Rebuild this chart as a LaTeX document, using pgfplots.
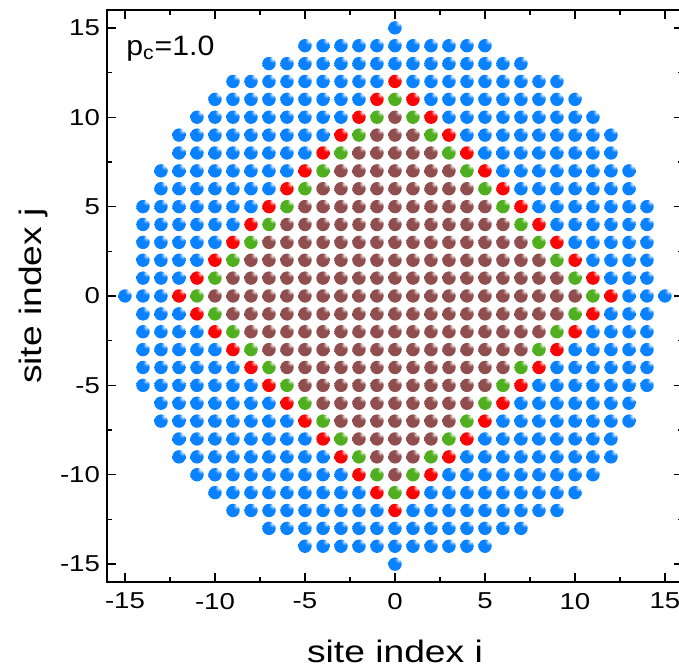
\documentclass[border=0pt]{standalone}
\usepackage{fontspec}
\setmainfont{Liberation Sans}
\newfontfamily\tickfont[FakeStretch=1.2]{Liberation Sans}
\newfontfamily\labfont[FakeStretch=1.2]{Liberation Sans}
\newfontfamily\notefont[FakeStretch=1.08]{Liberation Sans}
\usepackage{pgfplots}
\pgfplotsset{compat=1.18}
\definecolor{ballblue}{RGB}{10,130,255}
\definecolor{ballred}{RGB}{250,5,5}
\definecolor{ballgreen}{RGB}{80,175,30}
\definecolor{ballbrown}{RGB}{145,78,78}
% glossy sphere marks, highlight at the upper right
\newcommand\declsphere[1]{%
  \pgfdeclareradialshading{sh#1}{\pgfqpoint{15bp}{20bp}}{%
    color(0bp)=(white); color(5bp)=(#1!35!white); color(13bp)=(#1);
    color(50bp)=(#1); color(72bp)=(#1!80!black); color(100bp)=(#1!80!black)}%
  \pgfdeclareplotmark{sphere#1}{%
    \pgfpathcircle{\pgfpointorigin}{\pgfplotmarksize}%
    \pgfshadepath{sh#1}{0}\pgfusepath{}}}
\declsphere{ballblue}
\declsphere{ballred}
\declsphere{ballgreen}
\declsphere{ballbrown}
\pgfplotsset{site/.style={only marks, mark=sphere#1, mark size=3.35pt}}

\begin{document}
\begin{tikzpicture}
\begin{axis}[
  scale only axis, width=288pt, height=286pt,
  xmin=-16, xmax=16, ymin=-16, ymax=16,
  xtick={-15,-10,...,15}, ytick={-15,-10,...,15},
  minor tick num=1,
  major tick length=4.5pt, minor tick length=2.5pt,
  axis line style={line width=1pt},
  tick style={line width=0.7pt, black},
  /pgf/number format/assume math mode=true,
  tick label style={font=\tickfont\fontsize{11.5}{13}\selectfont},
  xticklabel style={yshift=-2pt},
  xlabel={site index i}, ylabel={site index j},
  label style={font=\labfont\fontsize{15.5}{18}\selectfont},
  xlabel style={at={(axis description cs:0.5,-0.1416)}, anchor=base},
  ylabel style={at={(axis description cs:-0.1276,0.5)}, anchor=center},
]
% outer sites
\addplot[site=ballblue] coordinates {
(0,15)
(-5,14)(-4,14)(-3,14)(-2,14)(-1,14)(0,14)(1,14)(2,14)(3,14)(4,14)(5,14)
(-7,13)(-6,13)(-5,13)(-4,13)(-3,13)(-2,13)(-1,13)(0,13)(1,13)(2,13)(3,13)(4,13)(5,13)(6,13)(7,13)
(-9,12)(-8,12)(-7,12)(-6,12)(-5,12)(-4,12)(-3,12)(-2,12)(-1,12)(1,12)(2,12)(3,12)(4,12)(5,12)(6,12)(7,12)(8,12)(9,12)
(-10,11)(-9,11)(-8,11)(-7,11)(-6,11)(-5,11)(-4,11)(-3,11)(-2,11)(2,11)(3,11)(4,11)(5,11)(6,11)(7,11)(8,11)(9,11)(10,11)
(-11,10)(-10,10)(-9,10)(-8,10)(-7,10)(-6,10)(-5,10)(-4,10)(-3,10)(3,10)(4,10)(5,10)(6,10)(7,10)(8,10)(9,10)(10,10)(11,10)
(-12,9)(-11,9)(-10,9)(-9,9)(-8,9)(-7,9)(-6,9)(-5,9)(-4,9)(4,9)(5,9)(6,9)(7,9)(8,9)(9,9)(10,9)(11,9)(12,9)
(-12,8)(-11,8)(-10,8)(-9,8)(-8,8)(-7,8)(-6,8)(-5,8)(5,8)(6,8)(7,8)(8,8)(9,8)(10,8)(11,8)(12,8)
(-13,7)(-12,7)(-11,7)(-10,7)(-9,7)(-8,7)(-7,7)(-6,7)(6,7)(7,7)(8,7)(9,7)(10,7)(11,7)(12,7)(13,7)
(-13,6)(-12,6)(-11,6)(-10,6)(-9,6)(-8,6)(-7,6)(7,6)(8,6)(9,6)(10,6)(11,6)(12,6)(13,6)
(-14,5)(-13,5)(-12,5)(-11,5)(-10,5)(-9,5)(-8,5)(8,5)(9,5)(10,5)(11,5)(12,5)(13,5)(14,5)
(-14,4)(-13,4)(-12,4)(-11,4)(-10,4)(-9,4)(9,4)(10,4)(11,4)(12,4)(13,4)(14,4)
(-14,3)(-13,3)(-12,3)(-11,3)(-10,3)(10,3)(11,3)(12,3)(13,3)(14,3)
(-14,2)(-13,2)(-12,2)(-11,2)(11,2)(12,2)(13,2)(14,2)
(-14,1)(-13,1)(-12,1)(12,1)(13,1)(14,1)
(-15,0)(-14,0)(-13,0)(13,0)(14,0)(15,0)
(-14,-1)(-13,-1)(-12,-1)(12,-1)(13,-1)(14,-1)
(-14,-2)(-13,-2)(-12,-2)(-11,-2)(11,-2)(12,-2)(13,-2)(14,-2)
(-14,-3)(-13,-3)(-12,-3)(-11,-3)(-10,-3)(10,-3)(11,-3)(12,-3)(13,-3)(14,-3)
(-14,-4)(-13,-4)(-12,-4)(-11,-4)(-10,-4)(-9,-4)(9,-4)(10,-4)(11,-4)(12,-4)(13,-4)(14,-4)
(-14,-5)(-13,-5)(-12,-5)(-11,-5)(-10,-5)(-9,-5)(-8,-5)(8,-5)(9,-5)(10,-5)(11,-5)(12,-5)(13,-5)(14,-5)
(-13,-6)(-12,-6)(-11,-6)(-10,-6)(-9,-6)(-8,-6)(-7,-6)(7,-6)(8,-6)(9,-6)(10,-6)(11,-6)(12,-6)(13,-6)
(-13,-7)(-12,-7)(-11,-7)(-10,-7)(-9,-7)(-8,-7)(-7,-7)(-6,-7)(6,-7)(7,-7)(8,-7)(9,-7)(10,-7)(11,-7)(12,-7)(13,-7)
(-12,-8)(-11,-8)(-10,-8)(-9,-8)(-8,-8)(-7,-8)(-6,-8)(-5,-8)(5,-8)(6,-8)(7,-8)(8,-8)(9,-8)(10,-8)(11,-8)(12,-8)
(-12,-9)(-11,-9)(-10,-9)(-9,-9)(-8,-9)(-7,-9)(-6,-9)(-5,-9)(-4,-9)(4,-9)(5,-9)(6,-9)(7,-9)(8,-9)(9,-9)(10,-9)(11,-9)(12,-9)
(-11,-10)(-10,-10)(-9,-10)(-8,-10)(-7,-10)(-6,-10)(-5,-10)(-4,-10)(-3,-10)(3,-10)(4,-10)(5,-10)(6,-10)(7,-10)(8,-10)(9,-10)(10,-10)(11,-10)
(-10,-11)(-9,-11)(-8,-11)(-7,-11)(-6,-11)(-5,-11)(-4,-11)(-3,-11)(-2,-11)(2,-11)(3,-11)(4,-11)(5,-11)(6,-11)(7,-11)(8,-11)(9,-11)(10,-11)
(-9,-12)(-8,-12)(-7,-12)(-6,-12)(-5,-12)(-4,-12)(-3,-12)(-2,-12)(-1,-12)(1,-12)(2,-12)(3,-12)(4,-12)(5,-12)(6,-12)(7,-12)(8,-12)(9,-12)
(-7,-13)(-6,-13)(-5,-13)(-4,-13)(-3,-13)(-2,-13)(-1,-13)(0,-13)(1,-13)(2,-13)(3,-13)(4,-13)(5,-13)(6,-13)(7,-13)
(-5,-14)(-4,-14)(-3,-14)(-2,-14)(-1,-14)(0,-14)(1,-14)(2,-14)(3,-14)(4,-14)(5,-14)
(0,-15)
};
% red ring
\addplot[site=ballred] coordinates {
(0,12)(-1,11)(1,11)(-2,10)(2,10)(-3,9)(3,9)(-4,8)(4,8)(-5,7)(5,7)(-6,6)(6,6)
(-7,5)(7,5)(-8,4)(8,4)(-9,3)(9,3)(-10,2)(10,2)(-11,1)(11,1)(-12,0)(12,0)
(-11,-1)(11,-1)(-10,-2)(10,-2)(-9,-3)(9,-3)(-8,-4)(8,-4)(-7,-5)(7,-5)(-6,-6)(6,-6)
(-5,-7)(5,-7)(-4,-8)(4,-8)(-3,-9)(3,-9)(-2,-10)(2,-10)(-1,-11)(1,-11)(0,-12)
};
% green ring
\addplot[site=ballgreen] coordinates {
(0,11)(-1,10)(1,10)(-2,9)(2,9)(-3,8)(3,8)(-4,7)(4,7)(-5,6)(5,6)
(-6,5)(6,5)(-7,4)(7,4)(-8,3)(8,3)(-9,2)(9,2)(-10,1)(10,1)(-11,0)(11,0)
(-10,-1)(10,-1)(-9,-2)(9,-2)(-8,-3)(8,-3)(-7,-4)(7,-4)(-6,-5)(6,-5)
(-5,-6)(5,-6)(-4,-7)(4,-7)(-3,-8)(3,-8)(-2,-9)(2,-9)(-1,-10)(1,-10)(0,-11)
};
% inner diamond
\addplot[site=ballbrown] coordinates {
(0,10)
(-1,9)(0,9)(1,9)
(-2,8)(-1,8)(0,8)(1,8)(2,8)
(-3,7)(-2,7)(-1,7)(0,7)(1,7)(2,7)(3,7)
(-4,6)(-3,6)(-2,6)(-1,6)(0,6)(1,6)(2,6)(3,6)(4,6)
(-5,5)(-4,5)(-3,5)(-2,5)(-1,5)(0,5)(1,5)(2,5)(3,5)(4,5)(5,5)
(-6,4)(-5,4)(-4,4)(-3,4)(-2,4)(-1,4)(0,4)(1,4)(2,4)(3,4)(4,4)(5,4)(6,4)
(-7,3)(-6,3)(-5,3)(-4,3)(-3,3)(-2,3)(-1,3)(0,3)(1,3)(2,3)(3,3)(4,3)(5,3)(6,3)(7,3)
(-8,2)(-7,2)(-6,2)(-5,2)(-4,2)(-3,2)(-2,2)(-1,2)(0,2)(1,2)(2,2)(3,2)(4,2)(5,2)(6,2)(7,2)(8,2)
(-9,1)(-8,1)(-7,1)(-6,1)(-5,1)(-4,1)(-3,1)(-2,1)(-1,1)(0,1)(1,1)(2,1)(3,1)(4,1)(5,1)(6,1)(7,1)(8,1)(9,1)
(-10,0)(-9,0)(-8,0)(-7,0)(-6,0)(-5,0)(-4,0)(-3,0)(-2,0)(-1,0)(0,0)(1,0)(2,0)(3,0)(4,0)(5,0)(6,0)(7,0)(8,0)(9,0)(10,0)
(-9,-1)(-8,-1)(-7,-1)(-6,-1)(-5,-1)(-4,-1)(-3,-1)(-2,-1)(-1,-1)(0,-1)(1,-1)(2,-1)(3,-1)(4,-1)(5,-1)(6,-1)(7,-1)(8,-1)(9,-1)
(-8,-2)(-7,-2)(-6,-2)(-5,-2)(-4,-2)(-3,-2)(-2,-2)(-1,-2)(0,-2)(1,-2)(2,-2)(3,-2)(4,-2)(5,-2)(6,-2)(7,-2)(8,-2)
(-7,-3)(-6,-3)(-5,-3)(-4,-3)(-3,-3)(-2,-3)(-1,-3)(0,-3)(1,-3)(2,-3)(3,-3)(4,-3)(5,-3)(6,-3)(7,-3)
(-6,-4)(-5,-4)(-4,-4)(-3,-4)(-2,-4)(-1,-4)(0,-4)(1,-4)(2,-4)(3,-4)(4,-4)(5,-4)(6,-4)
(-5,-5)(-4,-5)(-3,-5)(-2,-5)(-1,-5)(0,-5)(1,-5)(2,-5)(3,-5)(4,-5)(5,-5)
(-4,-6)(-3,-6)(-2,-6)(-1,-6)(0,-6)(1,-6)(2,-6)(3,-6)(4,-6)
(-3,-7)(-2,-7)(-1,-7)(0,-7)(1,-7)(2,-7)(3,-7)
(-2,-8)(-1,-8)(0,-8)(1,-8)(2,-8)
(-1,-9)(0,-9)(1,-9)
(0,-10)
};
\node[anchor=base west, inner sep=0pt, font=\notefont\fontsize{14}{16}\selectfont]
  at (axis cs:-14.95,13.46) {p\textsubscript{c}=1.0};
\end{axis}
\pgfresetboundingbox
\path[use as bounding box] ([xshift=-53.5pt,yshift=-44.5pt]current axis.south west)
  rectangle ([xshift=-2pt,yshift=5pt]current axis.north east);
\end{tikzpicture}
\end{document}
